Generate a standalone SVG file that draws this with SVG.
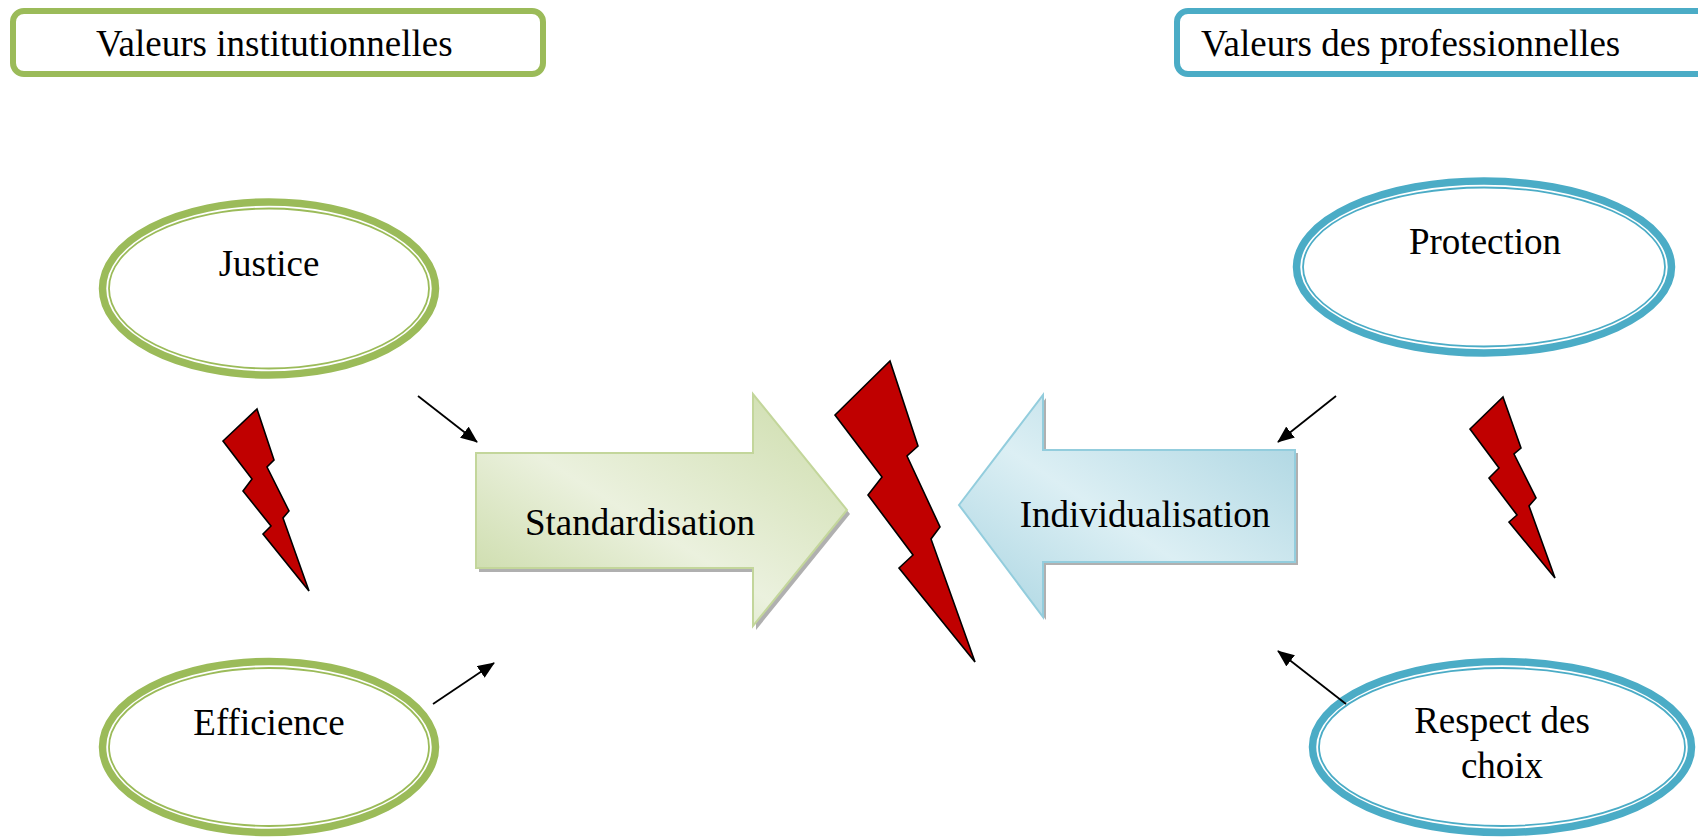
<svg xmlns="http://www.w3.org/2000/svg" width="1698" height="837" viewBox="0 0 1698 837">
<style>
.t{font-family:"Liberation Serif","Times New Roman",serif;font-size:37px;fill:#000}
.gbox{fill:#fff;stroke:#9BBB59;stroke-width:6}
.bbox{fill:#fff;stroke:#4BACC6;stroke-width:6}
.gout{fill:#fff;stroke:#9BBB59;stroke-width:7.5}
.gin{fill:none;stroke:#9BBB59;stroke-width:1.8}
.bout{fill:#fff;stroke:#4BACC6;stroke-width:7.5}
.bin{fill:none;stroke:#4BACC6;stroke-width:1.8}
.bolt{fill:#C00000;stroke:#000;stroke-width:1.6;stroke-linejoin:miter}
.shadow{fill:#8f8f8f;opacity:0.7}
.con{stroke:#000;stroke-width:1.8;fill:none}
</style>
<defs>
<linearGradient id="gGreen" x1="0" y1="1" x2="1" y2="0">
<stop offset="0" stop-color="#C5D79F"/>
<stop offset="0.45" stop-color="#EBF1DE"/>
<stop offset="1" stop-color="#CCDCAA"/>
</linearGradient>
<linearGradient id="gBlue" x1="0" y1="1" x2="1" y2="0">
<stop offset="0" stop-color="#A8D4E1"/>
<stop offset="0.45" stop-color="#DCEFF4"/>
<stop offset="1" stop-color="#A6D2DF"/>
</linearGradient>
<marker id="ah" markerUnits="userSpaceOnUse" markerWidth="18" markerHeight="14" refX="16" refY="7" orient="auto">
<path d="M0,0 L17,7 L0,14 Z" fill="#000"/>
</marker>
</defs>

<g id="header-institutional">
<rect class="gbox" x="13" y="11" width="530" height="63" rx="11"/>
<text class="t" x="96" y="56">Valeurs institutionnelles</text>
</g>
<g id="header-professional">
<rect class="bbox" x="1177" y="11" width="560" height="63" rx="11"/>
<text class="t" x="1201" y="56">Valeurs des professionnelles</text>
</g>

<g id="justice">
<ellipse class="gout" cx="269" cy="288.5" rx="166.5" ry="86.5"/>
<ellipse class="gin" cx="269" cy="288.5" rx="160" ry="80"/>
<text class="t" x="269" y="276" text-anchor="middle">Justice</text>
</g>
<g id="efficience">
<ellipse class="gout" cx="269" cy="747" rx="166.5" ry="85.5"/>
<ellipse class="gin" cx="269" cy="747" rx="160" ry="79"/>
<text class="t" x="269" y="735" text-anchor="middle">Efficience</text>
</g>
<g id="protection">
<ellipse class="bout" cx="1484" cy="267" rx="187.5" ry="86"/>
<ellipse class="bin" cx="1484" cy="267" rx="181" ry="79.5"/>
<text class="t" x="1485" y="254" text-anchor="middle">Protection</text>
</g>
<g id="respect">
<ellipse class="bout" cx="1502" cy="747" rx="189.5" ry="85.5"/>
<ellipse class="bin" cx="1502" cy="747" rx="183" ry="79"/>
<text class="t" x="1502" y="733" text-anchor="middle">Respect des</text>
<text class="t" x="1502" y="778" text-anchor="middle">choix</text>
</g>

<g id="standardisation">
<polygon class="shadow" points="479,457 756,457 756,398 850,514 756,630 756,572 479,572"/>
<polygon fill="url(#gGreen)" stroke="#C3D69B" stroke-width="2" points="476,453 753,453 753,394 847,510 753,626 753,568 476,568"/>
<text class="t" x="640" y="535" text-anchor="middle">Standardisation</text>
</g>
<g id="individualisation">
<polygon class="shadow" points="962,508 1046,398 1046,453 1298,453 1298,565 1046,565 1046,620"/>
<polygon fill="url(#gBlue)" stroke="#93CDDD" stroke-width="2" points="959,505 1043,395 1043,450 1295,450 1295,562 1043,562 1043,617"/>
<text class="t" x="1145" y="527" text-anchor="middle">Individualisation</text>
</g>

<g id="bolt-left">
<polygon class="bolt" points="257,409 274,460 267,467 289,511 283,518 309,591 263,534 271,526 243,491 252,479 223,441"/>
</g>
<g id="bolt-center">
<polygon class="bolt" points="890,361 918,446 907,456 940,527 931,539 975,662 899,568 913,555 868,495 882,477 835,415"/>
</g>
<g id="bolt-right">
<polygon class="bolt" points="1503,397 1521,448 1514,454 1536,498 1529,506 1555,578 1509,522 1517,515 1489,478 1499,468 1470,429"/>
</g>

<g id="connectors">
<line class="con" x1="418" y1="396" x2="477" y2="442" marker-end="url(#ah)"/>
<line class="con" x1="433" y1="704" x2="494" y2="663" marker-end="url(#ah)"/>
<line class="con" x1="1336" y1="396" x2="1278" y2="442" marker-end="url(#ah)"/>
<line class="con" x1="1346" y1="704" x2="1278" y2="651" marker-end="url(#ah)"/>
</g>
</svg>
